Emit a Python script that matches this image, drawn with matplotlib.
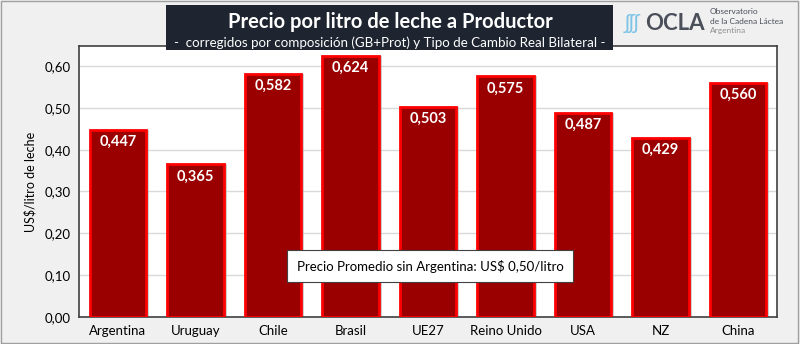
import matplotlib
matplotlib.use('Agg')
from matplotlib import pyplot as plt
from matplotlib.patches import Rectangle
import numpy as np

plt.rcParams['font.family'] = ['Lato', 'DejaVu Sans']

# data
paises = ['Argentina', 'Uruguay', 'Chile', 'Brasil', 'UE27',
          'Reino Unido', 'USA', 'NZ', 'China']
precios = [0.447, 0.365, 0.582, 0.624, 0.503, 0.575, 0.487, 0.429, 0.560]
yticks = [0.0, 0.1, 0.2, 0.3, 0.4, 0.5, 0.6]

fig = plt.figure(figsize=(8, 3.44), dpi=100)
fig.patch.set_facecolor('#f0f0f0')
# outer frame
fig.add_artist(Rectangle((0.001, 0.002), 0.997, 0.995, transform=fig.transFigure,
                         fill=False, edgecolor='#a0a0a0', lw=1))

ax = fig.add_axes([0.099, 0.0785, 0.872, 0.788])
ax.set_facecolor('white')

x = np.arange(len(paises))
# shadow
ax.bar(x + 0.04, precios, width=0.73, color='#b0b0b0', alpha=0.6, zorder=2)
bars = ax.bar(x, precios, width=0.73, color='#9b0000', edgecolor='#ff0000',
              linewidth=2, zorder=3)
for xi, v in zip(x, precios):
    ax.text(xi, v - 0.012, f'{v:.3f}'.replace('.', ','), ha='center', va='top',
            color='white', fontsize=10.5, fontweight='bold', zorder=4)

ax.set_xlim(-0.5, len(paises) - 0.5)
ax.set_ylim(0, 0.648)
ax.set_yticks(yticks)
ax.set_yticklabels([f'{t:.2f}'.replace('.', ',') for t in yticks], fontsize=9.5)
ax.set_xticks(x)
ax.set_xticklabels(paises, fontsize=9.5)
ax.tick_params(axis='both', length=0, pad=6)
ax.grid(axis='y', color='#d9d9d9', lw=1, zorder=0)
ax.set_axisbelow(True)
for s in ax.spines.values():
    s.set_color('#404040')
    s.set_linewidth(1.2)
ax.set_ylabel('US$/litro de leche', fontsize=9, labelpad=6)

ax.text(0.503, 0.188, 'Precio Promedio sin Argentina: US$ 0,50/litro',
        transform=ax.transAxes, ha='center', va='center', fontsize=9.5, zorder=6,
        bbox=dict(boxstyle='square,pad=0.7', fc='white', ec='#404040', lw=0.8))

# title box
fig.add_artist(Rectangle((166 / 800, 1 - 50 / 344), 447 / 800, 45 / 344,
                         transform=fig.transFigure, facecolor='#1e2530',
                         edgecolor='none', zorder=5))
fig.text(390 / 800, 1 - 22 / 344, 'Precio por litro de leche a Productor',
         ha='center', va='center', color='white', fontsize=14.5,
         fontweight='bold', zorder=6)
fig.text(390 / 800, 1 - 43 / 344,
         '-  corregidos por composición (GB+Prot) y Tipo de Cambio Real Bilateral -',
         ha='center', va='center', color='white', fontsize=9.6, zorder=6)

# logo
fig.text(632 / 800, 1 - 23 / 344, 'ʃʃʃ', ha='center', va='center',
         color='#7ec4e8', fontsize=15)
fig.text(645 / 800, 1 - 23 / 344, 'OCLA', ha='left', va='center',
         color='#4a4f5a', fontsize=16, fontweight='bold')
fig.text(710 / 800, 1 - 12 / 344, 'Observatorio', ha='left', va='center',
         color='#4a4f5a', fontsize=6)
fig.text(710 / 800, 1 - 21 / 344, 'de la Cadena Láctea', ha='left', va='center',
         color='#4a4f5a', fontsize=6)
fig.text(710 / 800, 1 - 31 / 344, 'Argentina', ha='left', va='center',
         color='#909090', fontsize=6)

fig.savefig('out.png', dpi=100, facecolor=fig.get_facecolor())
